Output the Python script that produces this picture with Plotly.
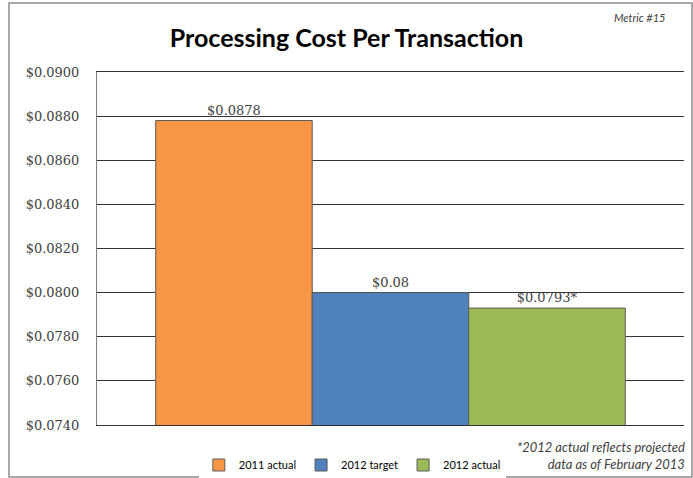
import plotly.graph_objects as go

# 数据
series_names = ["2011 actual", "2012 target", "2012 actual"]
series_values = [0.0878, 0.0800, 0.0793]
value_labels = ["$0.0878", "$0.08", "$0.0793*"]
series_colors = ["#F79646", "#4F81BD", "#9BBB59"]
y_ticks = [0.074, 0.076, 0.078, 0.080, 0.082, 0.084, 0.086, 0.088, 0.090]

fig = go.Figure()

for name, val, lab, col in zip(series_names, series_values, value_labels, series_colors):
    fig.add_trace(
        go.Bar(
            x=[""],
            y=[val],
            name=name,
            text=[lab],
            textposition="outside",
            textfont=dict(family="DejaVu Serif", size=13, color="#404040"),
            cliponaxis=False,
            marker=dict(color=col, line=dict(color="#5a5a5a", width=1)),
        )
    )

# 布局
fig.update_layout(
    width=693,
    height=478,
    autosize=False,
    barmode="group",
    bargap=0.2,
    bargroupgap=0,
    plot_bgcolor="white",
    paper_bgcolor="white",
    margin=dict(l=97, r=9, t=72, b=53, autoexpand=False),
    title=dict(
        text="<b>Processing Cost Per Transaction</b>",
        font=dict(family="Lato", size=25, color="#000000"),
        x=0.5, xanchor="center",
        y=1 - 38 / 478, yanchor="middle",
    ),
    legend=dict(
        orientation="h",
        x=0.435, xanchor="center",
        yref="container",
        y=1 - 465 / 478, yanchor="middle",
        font=dict(family="Lato", size=11, color="#000000"),
        itemwidth=30,
        tracegroupgap=0,
    ),
    showlegend=True,
)

fig.update_yaxes(
    range=[0.074, 0.090],
    tickvals=y_ticks,
    tickformat="$.4f",
    tickfont=dict(family="DejaVu Serif", size=13, color="#404040"),
    ticklabelstandoff=14,
    showgrid=True,
    gridcolor="#333333",
    gridwidth=1,
    showline=True,
    linecolor="#7f7f7f",
    linewidth=1,
    zeroline=False,
)
# 上下边线(0.090 与 0.074 处的网格线)
fig.update_xaxes(
    showticklabels=False, showgrid=False, zeroline=False,
    showline=True, mirror=True, linecolor="#333333", linewidth=1,
)

# 注释
fig.add_annotation(
    text="<i>Metric #15</i>",
    xref="paper", yref="paper",
    x=0.971, y=1.153, xanchor="right", yanchor="middle",
    showarrow=False,
    font=dict(family="Lato", size=11, color="#404040"),
)
fig.add_annotation(
    text="<i>*2012 actual reflects projected<br>data as of February 2013</i>",
    xref="paper", yref="paper",
    x=1.005, y=-0.085, xanchor="right", yanchor="middle",
    align="right",
    showarrow=False,
    font=dict(family="Lato", size=13, color="#404040"),
)

# 外框
fig.add_shape(
    type="rect", xref="paper", yref="paper",
    x0=(9 - 97) / 587, x1=(692 - 97) / 587,
    y0=(425 - 477) / 353, y1=(425 - 3) / 353,
    line=dict(color="#8c8c8c", width=1.5),
)

fig.write_html(
    "out.html",
    config={"displayModeBar": False},
    post_script="document.body.style.margin='0';document.body.style.overflow='hidden';",
)
